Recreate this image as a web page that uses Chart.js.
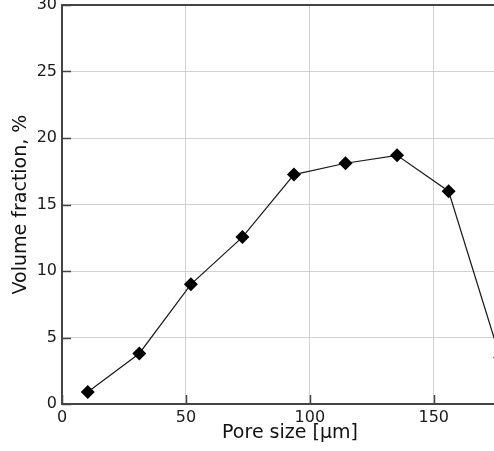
<!DOCTYPE html>
<html>
<head>
<meta charset="utf-8">
<script src="https://cdn.jsdelivr.net/npm/chart.js@4/dist/chart.umd.min.js"></script>
<style>
  html, body { margin: 0; padding: 0; overflow: hidden; background: #fff; }
  canvas { display: block; }
</style>
</head>
<body>
<canvas id="chart" width="518" height="451"></canvas>
<script>
// pore size bin centres (µm) and volume fraction (%)
const poreSize = [10.4, 31.2, 52, 72.8, 93.6, 114.4, 135.2, 156, 176.8];
const volumeFraction = [0.9, 3.8, 9.0, 12.55, 17.25, 18.1, 18.7, 16.0, 3.5];
const xTicks = [0, 50, 100, 150];
const yTicks = [0, 5, 10, 15, 20, 25, 30];

const AXIS_COLOR = '#444';
const FONT = 'DejaVu Sans';

// chart.js reserves room for half the end labels; the reference has none
function noPadding(s) {
  s.paddingTop = 0;
  s.paddingBottom = 0;
  s.paddingLeft = 0;
  s.paddingRight = 0;
}

// matplotlib-style inward tick marks + top frame line
const inwardTicks = {
  id: 'inwardTicks',
  afterDraw(chart) {
    const { ctx, chartArea, scales } = chart;
    ctx.save();
    ctx.strokeStyle = AXIS_COLOR;
    ctx.lineWidth = 1.5;
    ctx.beginPath();
    xTicks.forEach(v => {
      const px = Math.round(scales.x.getPixelForValue(v)) + 0.5;
      ctx.moveTo(px, chartArea.bottom);
      ctx.lineTo(px, chartArea.bottom - 9);
    });
    yTicks.forEach(v => {
      const py = Math.round(scales.y.getPixelForValue(v)) + 0.5;
      ctx.moveTo(chartArea.left, py);
      ctx.lineTo(chartArea.left + 9, py);
    });
    ctx.stroke();
    ctx.lineWidth = 2;
    ctx.beginPath();
    ctx.moveTo(chartArea.left, chartArea.top);
    ctx.lineTo(chartArea.right, chartArea.top);
    ctx.stroke();
    ctx.restore();
  }
};

new Chart(document.getElementById('chart').getContext('2d'), {
  type: 'line',
  data: {
    datasets: [{
      data: poreSize.map((x, i) => ({ x: x, y: volumeFraction[i] })),
      borderColor: '#1a1a1a',
      borderWidth: 1.2,
      pointStyle: 'rectRot',
      pointRadius: 7,
      pointBackgroundColor: '#000',
      pointBorderColor: '#000',
      pointBorderWidth: 0,
      tension: 0
    }]
  },
  options: {
    responsive: false,
    animation: false,
    layout: { autoPadding: false, padding: { top: 5, right: 0, left: 0, bottom: 0 } },
    plugins: {
      legend: { display: false },
      tooltip: { enabled: false }
    },
    scales: {
      x: {
        type: 'linear',
        min: 0,
        max: 184,
        afterBuildTicks: s => { s.ticks = xTicks.map(v => ({ value: v })); },
        afterFit: s => { s.height = 47; noPadding(s); },
        grid: { color: '#d0d0d0', lineWidth: 1, drawTicks: false },
        border: { color: AXIS_COLOR, width: 2 },
        ticks: { color: '#1a1a1a', font: { family: FONT, size: 16 }, padding: 4, maxRotation: 0 },
        title: {
          display: true,
          text: 'Pore size [µm]',
          color: '#111',
          font: { family: FONT, size: 19 },
          padding: { top: 0, bottom: 7 }
        }
      },
      y: {
        min: 0,
        max: 30,
        afterBuildTicks: s => { s.ticks = yTicks.map(v => ({ value: v })); },
        afterFit: s => { s.width = 62; noPadding(s); },
        grid: { color: '#d0d0d0', lineWidth: 1, drawTicks: false },
        border: { color: AXIS_COLOR, width: 2 },
        ticks: { color: '#1a1a1a', font: { family: FONT, size: 16 }, padding: 5 },
        title: {
          display: true,
          text: 'Volume fraction, %',
          color: '#111',
          font: { family: FONT, size: 19 },
          padding: { top: 10, bottom: 0 }
        }
      }
    }
  },
  plugins: [inwardTicks]
});
</script>
</body>
</html>
